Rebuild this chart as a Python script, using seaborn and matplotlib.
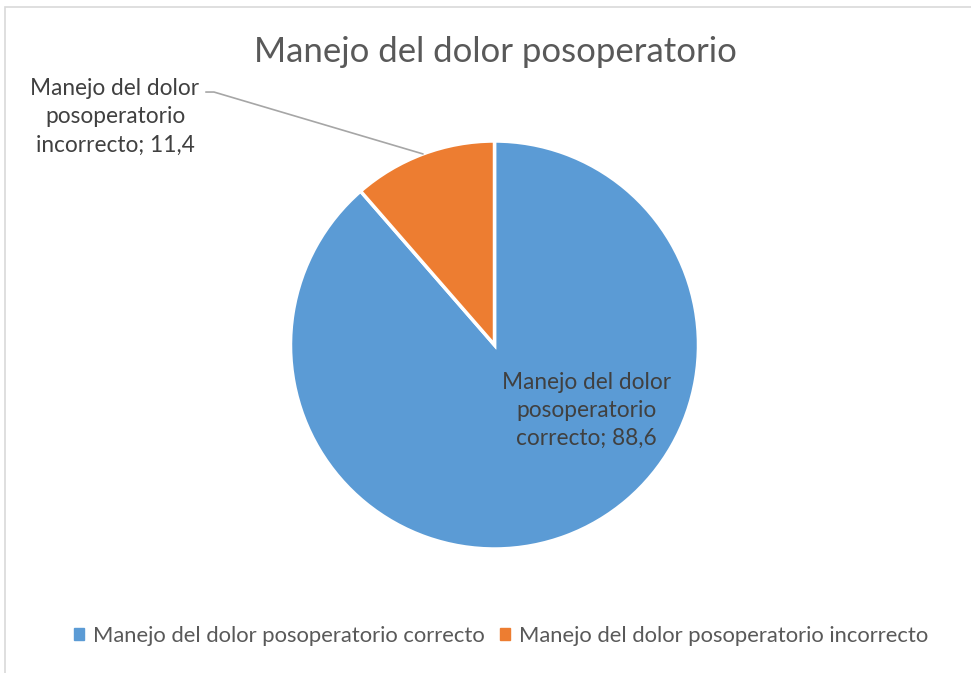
import numpy as np
import seaborn as sns
import matplotlib.pyplot as plt
from matplotlib.patches import Rectangle

# Data
categories = [
    "Manejo del dolor posoperatorio correcto",
    "Manejo del dolor posoperatorio incorrecto",
]
values = [88.6, 11.4]
label_texts = [
    "Manejo del dolor\nposoperatorio\ncorrecto; 88,6",
    "Manejo del dolor\nposoperatorio\nincorrecto; 11,4",
]
title = "Manejo del dolor posoperatorio"

sns.set_theme(style="white")
plt.rcParams["font.family"] = ["Lato", "DejaVu Sans"]

colors = ["#5B9BD5", "#ED7D31"]
gray = "#595959"
W, H = 971, 673

fig = plt.figure(figsize=(W / 100, H / 100), dpi=100)

# chart frame (light gray, partly cut off like the screenshot)
fig.patches.append(
    Rectangle((5 / W, -0.01), 1.2, 1 - 7 / H + 0.01, transform=fig.transFigure,
              fill=False, edgecolor="#D9D9D9", linewidth=1.2)
)

cx, cy, r = 494.5, 345, 204
ax = fig.add_axes([(cx - r) / W, (H - cy - r) / H, 2 * r / W, 2 * r / H])
wedges, _ = ax.pie(
    values,
    colors=colors,
    startangle=90,
    counterclock=False,
    wedgeprops=dict(edgecolor="white", linewidth=2.5),
)
ax.set_xlim(-1, 1)
ax.set_ylim(-1, 1)
ax.axis("off")

# label inside the big slice
ax.text(0.45, -0.32, label_texts[0], ha="center", va="center",
        fontsize=16.3, color="#404040", linespacing=1.42)

# label outside the small slice, with leader line
w = wedges[1]
mid = np.deg2rad((w.theta1 + w.theta2) / 2)
px, py = np.cos(mid), np.sin(mid)
tx, ty = -1.42, 1.24
ax.plot([tx + 0.005, tx + 0.045, px], [ty, ty, py], color="#A6A6A6",
        linewidth=1.2, clip_on=False)
ax.text(tx - 0.44, 1.118, label_texts[1], ha="center", va="center",
        fontsize=16.3, color="#404040", linespacing=1.45)

fig.text(495 / W, 1 - 52 / H, title, ha="center", va="center",
         fontsize=25, color=gray)

handles = [Rectangle((0, 0), 1, 1, color=c) for c in colors]
fig.legend(handles, categories, loc="center", bbox_to_anchor=(501 / W, 1 - 636 / H),
           ncol=2, frameon=False, fontsize=15.8, handlelength=0.45, handleheight=0.45,
           handletextpad=0.4, columnspacing=0.7, labelcolor=gray)

fig.savefig("out.png", dpi=100, facecolor="white")
